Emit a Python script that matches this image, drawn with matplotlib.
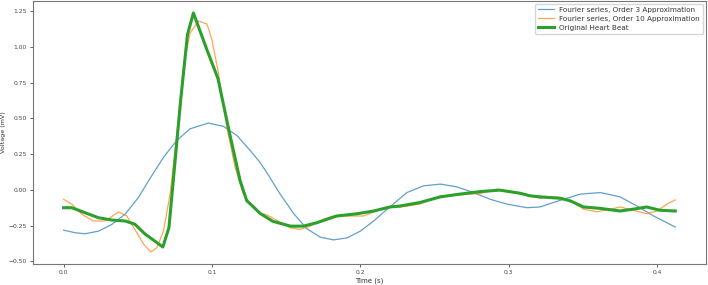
import matplotlib
matplotlib.use("Agg")
import matplotlib.pyplot as plt

# Original heart beat
t_orig = [0.0, 0.0055, 0.0145, 0.0235, 0.0325, 0.0415, 0.048, 0.055, 0.0617, 0.0669,
          0.071, 0.075, 0.079, 0.0835, 0.0875, 0.0966, 0.104, 0.112, 0.119, 0.1235,
          0.126, 0.1325, 0.141, 0.153, 0.1615, 0.1707, 0.184, 0.198, 0.209, 0.220,
          0.227, 0.240, 0.254, 0.267, 0.281, 0.294, 0.3078, 0.3145, 0.321, 0.3348,
          0.3415, 0.3505, 0.362, 0.375, 0.384, 0.393, 0.402, 0.4123]
v_orig = [-0.125, -0.125, -0.16, -0.195, -0.211, -0.218, -0.24, -0.31, -0.36, -0.40,
          -0.265, 0.185, 0.635, 1.085, 1.237, 0.98, 0.78, 0.39, 0.063, -0.077,
          -0.10, -0.165, -0.22, -0.254, -0.254, -0.23, -0.183, -0.167, -0.148, -0.12,
          -0.113, -0.089, -0.049, -0.03, -0.012, -0.002, -0.024, -0.042, -0.049, -0.059,
          -0.077, -0.12, -0.13, -0.148, -0.135, -0.12, -0.143, -0.148]

# Fourier series, order 10
t_o10 = [0.0, 0.0055, 0.0123, 0.020, 0.028, 0.037, 0.0426, 0.048, 0.054, 0.0588,
         0.0628, 0.0673, 0.0718, 0.0763, 0.0808, 0.0853, 0.0909, 0.0966, 0.100, 0.1044,
         0.110, 0.1156, 0.1212, 0.128, 0.1325, 0.137, 0.1438, 0.1527, 0.1595, 0.1662,
         0.175, 0.182, 0.193, 0.202, 0.211, 0.218, 0.227, 0.240, 0.254, 0.267,
         0.281, 0.292, 0.303, 0.3145, 0.321, 0.3326, 0.3415, 0.3505, 0.3595, 0.3685,
         0.375, 0.384, 0.393, 0.400, 0.4067, 0.4123]
v_o10 = [-0.066, -0.10, -0.17, -0.218, -0.218, -0.155, -0.183, -0.277, -0.38, -0.435,
         -0.405, -0.29, -0.03, 0.39, 0.86, 1.097, 1.18, 1.16, 1.05, 0.815,
         0.44, 0.157, -0.03, -0.125, -0.165, -0.175, -0.213, -0.265, -0.277, -0.254,
         -0.206, -0.183, -0.183, -0.183, -0.148, -0.12, -0.12, -0.10, -0.042, -0.035,
         -0.026, 0.005, -0.019, -0.042, -0.059, -0.049, -0.073, -0.136, -0.153, -0.136,
         -0.12, -0.143, -0.167, -0.148, -0.10, -0.07]

# Fourier series, order 3
t_o3 = [0.0, 0.0078, 0.0145, 0.0235, 0.0325, 0.0415, 0.0504, 0.0583, 0.0673, 0.0763,
        0.0853, 0.0976, 0.1078, 0.1168, 0.1258, 0.1325, 0.137, 0.146, 0.155, 0.164,
        0.173, 0.182, 0.191, 0.200, 0.209, 0.218, 0.2314, 0.2426, 0.254, 0.265,
        0.2763, 0.2876, 0.2989, 0.3123, 0.321, 0.3348, 0.3483, 0.3618, 0.375, 0.3865,
        0.3977, 0.4123]
v_o3 = [-0.282, -0.30, -0.307, -0.289, -0.242, -0.17, -0.054, 0.08, 0.227, 0.345,
        0.427, 0.467, 0.444, 0.38, 0.275, 0.19, 0.12, -0.03, -0.165, -0.272,
        -0.331, -0.35, -0.336, -0.289, -0.218, -0.136, -0.019, 0.028, 0.04, 0.021,
        -0.019, -0.066, -0.10, -0.125, -0.12, -0.073, -0.03, -0.019, -0.049, -0.113,
        -0.183, -0.26]

labels = ["Fourier series, Order 3 Approximation",
          "Fourier series, Order 10 Approximation",
          "Original Heart Beat"]

fig = plt.figure(figsize=(7.08, 2.85), dpi=100)
ax = fig.add_axes([0.0466, 0.0737, 0.9504, 0.9228])
ax.plot(t_o3, v_o3, color="#1f77b4", lw=0.9, alpha=0.7, label=labels[0])
ax.plot(t_o10, v_o10, color="#ff7f0e", lw=0.9, alpha=0.7, label=labels[1])
ax.plot(t_orig, v_orig, color="#2ca02c", lw=2.2, label=labels[2])

ax.set_xticks([0.0, 0.1, 0.2, 0.3, 0.4])
ax.set_yticks([-0.5, -0.25, 0.0, 0.25, 0.5, 0.75, 1.0, 1.25])
ax.tick_params(labelsize=4.3, length=2.5, width=0.6, colors="#444444", pad=2)
for s in ax.spines.values():
    s.set_linewidth(0.8)
    s.set_color("#777777")
ax.set_xlabel("Time (s)", fontsize=5, labelpad=1.5, color="#333333")
ax.set_ylabel("Voltage (mV)", fontsize=4.6, labelpad=1.5, color="#333333")
leg = ax.legend(loc="upper right", fontsize=5.2, handlelength=2.2,
                borderaxespad=0.4, labelspacing=0.4)
for txt in leg.get_texts():
    txt.set_color("#333333")

fig.savefig("out.png", dpi=100)
